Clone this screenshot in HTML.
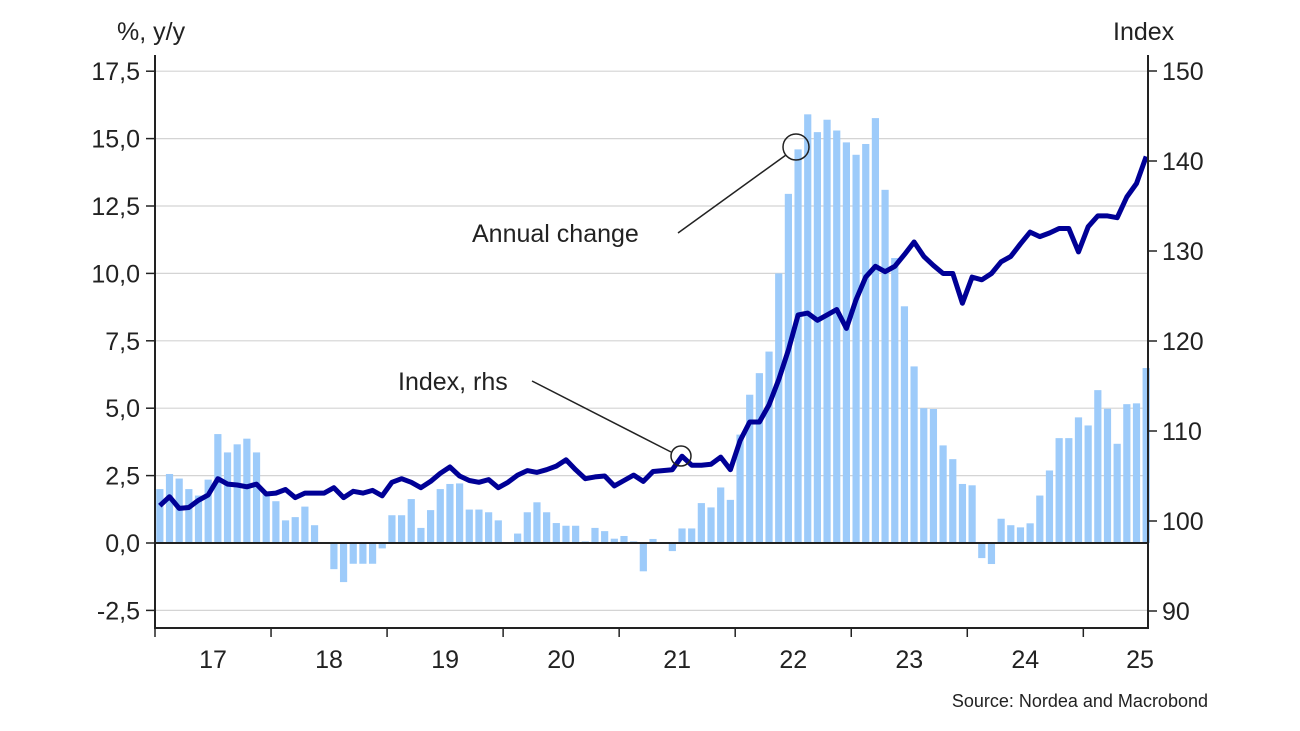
<!DOCTYPE html>
<html><head><meta charset="utf-8"><style>
body{margin:0;background:#fff;}
svg{display:block;font-family:"Liberation Sans",sans-serif;}
</style></head><body>
<svg id="chart" width="1300" height="731" viewBox="0 0 1300 731" xmlns="http://www.w3.org/2000/svg">
<rect width="1300" height="731" fill="#fff"/>
<g id="grid"></g>
<g id="bars"></g>
<line x1="155" x2="1148" y1="543" y2="543" stroke="#222" stroke-width="2"/>
<path id="line" fill="none" stroke="#000096" stroke-width="5" stroke-linejoin="round"/>
<g id="axes"></g>
<text x="117" y="40" font-size="25" fill="#222">%, y/y</text>
<text x="1113" y="40" font-size="25" fill="#222">Index</text>
<text x="472" y="242" font-size="25" fill="#222">Annual change</text>
<line x1="678" y1="233" x2="786" y2="155" stroke="#222" stroke-width="1.5"/>
<circle cx="796" cy="147" r="13" fill="none" stroke="#222" stroke-width="1.5"/>
<text x="398" y="390" font-size="25" fill="#222">Index, rhs</text>
<line x1="532" y1="381" x2="671" y2="452" stroke="#222" stroke-width="1.5"/>
<circle cx="681" cy="456" r="10" fill="none" stroke="#222" stroke-width="1.5"/>
<text x="1208" y="707" font-size="18" fill="#222" text-anchor="end">Source: Nordea and Macrobond</text>
</svg>
<script>
const yearLabels = ["17","18","19","20","21","22","23","24","25"];
const leftTicks = [-2.5,0,2.5,5,7.5,10,12.5,15,17.5];
const rightTicks = [90,100,110,120,130,140,150];
const annualChange = [2.0,2.56,2.39,2.0,1.76,2.35,4.04,3.36,3.66,3.87,3.36,1.85,
1.55,0.84,0.96,1.35,0.66,0,-0.97,-1.45,-0.77,-0.77,-0.77,-0.2,
1.03,1.03,1.63,0.56,1.22,2.0,2.19,2.21,1.24,1.24,1.14,0.84,
0,0.35,1.14,1.51,1.14,0.74,0.64,0.64,0.06,0.56,0.44,0.16,
0.26,0.06,-1.05,0.15,0,-0.3,0.54,0.54,1.48,1.32,2.06,1.6,
4.02,5.5,6.3,7.1,10.0,12.95,14.6,15.9,15.24,15.7,15.3,14.86,
14.4,14.8,15.76,13.1,10.57,8.78,6.55,5.0,4.97,3.62,3.11,2.19,
2.14,-0.56,-0.78,0.9,0.66,0.58,0.73,1.76,2.69,3.89,3.89,4.66,
4.36,5.67,4.98,3.68,5.15,5.18,6.49];
const indexValues = [101.7,102.7,101.4,101.5,102.3,102.9,104.7,104.1,104.0,103.8,104.1,103.0,
103.1,103.5,102.6,103.1,103.1,103.1,103.7,102.6,103.3,103.1,103.4,102.8,
104.3,104.7,104.3,103.7,104.4,105.3,106.0,105.0,104.5,104.3,104.6,103.7,
104.3,105.1,105.6,105.4,105.7,106.1,106.8,105.7,104.7,104.9,105.0,103.9,
104.5,105.1,104.4,105.5,105.6,105.7,107.2,106.2,106.2,106.3,107.1,105.7,
108.9,111.0,111.0,112.9,115.7,119.0,122.9,123.1,122.3,122.9,123.5,121.4,
124.6,127.1,128.3,127.7,128.3,129.6,131.0,129.4,128.4,127.5,127.5,124.2,
127.1,126.8,127.5,128.8,129.4,130.8,132.1,131.6,132.0,132.5,132.5,129.9,
132.7,133.9,133.9,133.7,136.0,137.5,140.5];

const NS="http://www.w3.org/2000/svg";
const X0=155, MW=9.67;
const xM = i => X0 + (i+0.5)*MW;
const yL = v => 543 - v*26.96;
const yR = v => 521 - (v-100)*9;
function mk(tag, attrs, parent){const e=document.createElementNS(NS,tag);for(const k in attrs)e.setAttribute(k,attrs[k]);parent.appendChild(e);return e;}
const grid=document.getElementById('grid'), bars=document.getElementById('bars'), axes=document.getElementById('axes');

leftTicks.forEach(t=>{
  if(t!==0){const g=mk('line',{x1:155,x2:1148,y1:yL(t),y2:yL(t),stroke:'#d4d4d4','stroke-width':1.2},grid);
  
  }
  const tk=mk('line',{x1:146,x2:155,y1:yL(t),y2:yL(t),stroke:'#222','stroke-width':1.5},axes);
  
  
  const tx=mk('text',{x:140,y:yL(t)+9,'font-size':25,'text-anchor':'end',fill:'#222'},axes);
  tx.textContent=t.toFixed(1).replace('.',',');
  
  
});
rightTicks.forEach(t=>{
  const tk=mk('line',{x1:1148,x2:1157,y1:yR(t),y2:yR(t),stroke:'#222','stroke-width':1.5},axes);
  
  
  const tx=mk('text',{x:1162,y:yR(t)+9,'font-size':25,fill:'#222'},axes);
  tx.textContent=t;
  
  
});
annualChange.forEach((v,i)=>{
  const y1=yL(Math.max(v,0)), y2=yL(Math.min(v,0));
  const r=mk('rect',{x:xM(i)-3.6,y:y1,width:7.2,height:Math.max(y2-y1,0),fill:'#9dcbfa'},bars);
  
  
});
document.getElementById('line').setAttribute('d', indexValues.map((v,i)=>(i?'L':'M')+xM(i).toFixed(1)+' '+yR(v).toFixed(1)).join(' '));

const la=mk('line',{x1:155,x2:155,y1:55,y2:629,stroke:'#222','stroke-width':2},axes);


const ra=mk('line',{x1:1148,x2:1148,y1:55,y2:629,stroke:'#222','stroke-width':2},axes);


const ba=mk('line',{x1:155,x2:1148,y1:628,y2:628,stroke:'#222','stroke-width':2},axes);


yearLabels.forEach((lab,k)=>{
  const x=X0+k*12*MW;
  const tk=mk('line',{x1:x,x2:x,y1:628,y2:637,stroke:'#222','stroke-width':1.5},axes);
  
  
  const cx=Math.min(x+6*MW, 1140);
  const tx=mk('text',{x:k===yearLabels.length-1?1140:cx,y:668,'font-size':25,'text-anchor':'middle',fill:'#222'},axes);
  tx.textContent=lab;
  
  
});
</script>
</body></html>
